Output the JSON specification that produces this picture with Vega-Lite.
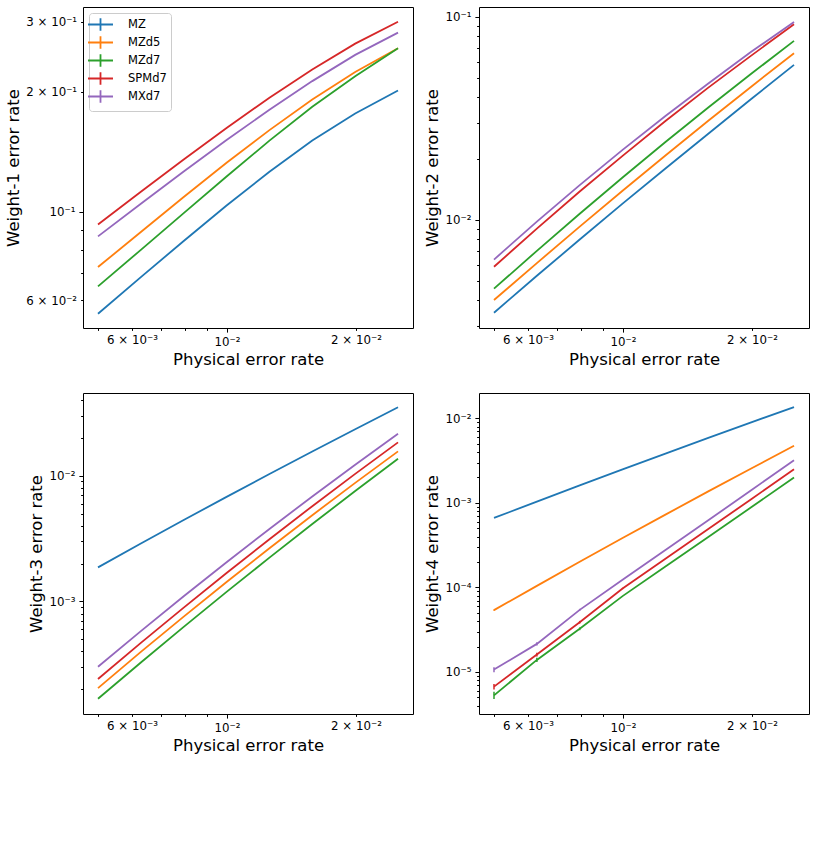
{
  "$schema": "https://vega.github.io/schema/vega-lite/v6.json",
  "background": "white",
  "padding": {"left": 5, "top": 6, "right": 5, "bottom": 5},
  "config": {
    "font": "DejaVu Sans",
    "view": {"stroke": "#000", "strokeWidth": 1},
    "axis": {"domain": false, "grid": false, "labelFont": "DejaVu Sans", "labelFontSize": 11.8, "labelColor": "#000", "tickColor": "#000", "tickWidth": 1, "titleFont": "DejaVu Sans", "titleFontSize": 16.5, "titleFontWeight": "normal", "titleColor": "#000", "labelOverlap": false, "labelFlush": false, "labelBound": false, "labelPadding": 4}
  },
  "data": {"values": [
    {"g":"w1","s":"MZ","p":0.005,"e":0.0554},{"g":"w1","s":"MZ","p":0.006295,"e":0.0685},{"g":"w1","s":"MZ","p":0.007924,"e":0.0844},{"g":"w1","s":"MZ","p":0.009976,"e":0.1036},{"g":"w1","s":"MZ","p":0.01256,"e":0.126},{"g":"w1","s":"MZ","p":0.01581,"e":0.1509},{"g":"w1","s":"MZ","p":0.01991,"e":0.1764},{"g":"w1","s":"MZ","p":0.02506,"e":0.2016},
    {"g":"w1","s":"MZd5","p":0.005,"e":0.0726},{"g":"w1","s":"MZd5","p":0.006295,"e":0.0889},{"g":"w1","s":"MZd5","p":0.007924,"e":0.1089},{"g":"w1","s":"MZd5","p":0.009976,"e":0.1327},{"g":"w1","s":"MZd5","p":0.01256,"e":0.1603},{"g":"w1","s":"MZd5","p":0.01581,"e":0.1914},{"g":"w1","s":"MZd5","p":0.01991,"e":0.2244},{"g":"w1","s":"MZd5","p":0.02506,"e":0.2573},
    {"g":"w1","s":"MZd7","p":0.005,"e":0.0649},{"g":"w1","s":"MZd7","p":0.006295,"e":0.0802},{"g":"w1","s":"MZd7","p":0.007924,"e":0.0992},{"g":"w1","s":"MZd7","p":0.009976,"e":0.1226},{"g":"w1","s":"MZd7","p":0.01256,"e":0.1508},{"g":"w1","s":"MZd7","p":0.01581,"e":0.1834},{"g":"w1","s":"MZd7","p":0.01991,"e":0.219},{"g":"w1","s":"MZd7","p":0.02506,"e":0.2573},
    {"g":"w1","s":"SPMd7","p":0.005,"e":0.0929},{"g":"w1","s":"SPMd7","p":0.006295,"e":0.1122},{"g":"w1","s":"SPMd7","p":0.007924,"e":0.1353},{"g":"w1","s":"SPMd7","p":0.009976,"e":0.1623},{"g":"w1","s":"SPMd7","p":0.01256,"e":0.1933},{"g":"w1","s":"SPMd7","p":0.01581,"e":0.2277},{"g":"w1","s":"SPMd7","p":0.01991,"e":0.2643},{"g":"w1","s":"SPMd7","p":0.02506,"e":0.3},
    {"g":"w1","s":"MXd7","p":0.005,"e":0.0867},{"g":"w1","s":"MXd7","p":0.006295,"e":0.1047},{"g":"w1","s":"MXd7","p":0.007924,"e":0.1262},{"g":"w1","s":"MXd7","p":0.009976,"e":0.1514},{"g":"w1","s":"MXd7","p":0.01256,"e":0.1803},{"g":"w1","s":"MXd7","p":0.01581,"e":0.2128},{"g":"w1","s":"MXd7","p":0.01991,"e":0.2477},{"g":"w1","s":"MXd7","p":0.02506,"e":0.2817},

    {"g":"w2","s":"MZ","p":0.005,"e":0.00348},{"g":"w2","s":"MZ","p":0.006295,"e":0.00529},{"g":"w2","s":"MZ","p":0.007924,"e":0.00798},{"g":"w2","s":"MZ","p":0.009976,"e":0.01199},{"g":"w2","s":"MZ","p":0.01256,"e":0.01787},{"g":"w2","s":"MZ","p":0.01581,"e":0.0265},{"g":"w2","s":"MZ","p":0.01991,"e":0.0393},{"g":"w2","s":"MZ","p":0.02506,"e":0.0579},
    {"g":"w2","s":"MZd5","p":0.005,"e":0.00402},{"g":"w2","s":"MZd5","p":0.006295,"e":0.00611},{"g":"w2","s":"MZd5","p":0.007924,"e":0.00924},{"g":"w2","s":"MZd5","p":0.009976,"e":0.01388},{"g":"w2","s":"MZd5","p":0.01256,"e":0.0207},{"g":"w2","s":"MZd5","p":0.01581,"e":0.0307},{"g":"w2","s":"MZd5","p":0.01991,"e":0.0452},{"g":"w2","s":"MZd5","p":0.02506,"e":0.0661},
    {"g":"w2","s":"MZd7","p":0.005,"e":0.00457},{"g":"w2","s":"MZd7","p":0.006295,"e":0.00702},{"g":"w2","s":"MZd7","p":0.007924,"e":0.0107},{"g":"w2","s":"MZd7","p":0.009976,"e":0.01614},{"g":"w2","s":"MZd7","p":0.01256,"e":0.02415},{"g":"w2","s":"MZd7","p":0.01581,"e":0.0357},{"g":"w2","s":"MZd7","p":0.01991,"e":0.0523},{"g":"w2","s":"MZd7","p":0.02506,"e":0.076},
    {"g":"w2","s":"SPMd7","p":0.005,"e":0.00586},{"g":"w2","s":"SPMd7","p":0.006295,"e":0.00903},{"g":"w2","s":"SPMd7","p":0.007924,"e":0.01377},{"g":"w2","s":"SPMd7","p":0.009976,"e":0.02062},{"g":"w2","s":"SPMd7","p":0.01256,"e":0.0306},{"g":"w2","s":"SPMd7","p":0.01581,"e":0.0447},{"g":"w2","s":"SPMd7","p":0.01991,"e":0.0643},{"g":"w2","s":"SPMd7","p":0.02506,"e":0.0917},
    {"g":"w2","s":"MXd7","p":0.005,"e":0.00636},{"g":"w2","s":"MXd7","p":0.006295,"e":0.00978},{"g":"w2","s":"MXd7","p":0.007924,"e":0.0148},{"g":"w2","s":"MXd7","p":0.009976,"e":0.02207},{"g":"w2","s":"MXd7","p":0.01256,"e":0.0324},{"g":"w2","s":"MXd7","p":0.01581,"e":0.0469},{"g":"w2","s":"MXd7","p":0.01991,"e":0.0671},{"g":"w2","s":"MXd7","p":0.02506,"e":0.0941},

    {"g":"w3","s":"MZ","p":0.005,"e":0.001865},{"g":"w3","s":"MZ","p":0.006295,"e":0.002885},{"g":"w3","s":"MZ","p":0.007924,"e":0.004437},{"g":"w3","s":"MZ","p":0.009976,"e":0.006788},{"g":"w3","s":"MZ","p":0.01256,"e":0.01032},{"g":"w3","s":"MZ","p":0.01581,"e":0.0156},{"g":"w3","s":"MZ","p":0.01991,"e":0.02342},{"g":"w3","s":"MZ","p":0.02506,"e":0.035},
    {"g":"w3","s":"MZd5","p":0.005,"e":0.000204},{"g":"w3","s":"MZd5","p":0.006295,"e":0.000396},{"g":"w3","s":"MZd5","p":0.007924,"e":0.000756},{"g":"w3","s":"MZd5","p":0.009976,"e":0.001425},{"g":"w3","s":"MZd5","p":0.01256,"e":0.002647},{"g":"w3","s":"MZd5","p":0.01581,"e":0.00485},{"g":"w3","s":"MZd5","p":0.01991,"e":0.00877},{"g":"w3","s":"MZd5","p":0.02506,"e":0.01562},
    {"g":"w3","s":"MZd7","p":0.005,"e":0.000168},{"g":"w3","s":"MZd7","p":0.006295,"e":0.000326},{"g":"w3","s":"MZd7","p":0.007924,"e":0.000627},{"g":"w3","s":"MZd7","p":0.009976,"e":0.001189},{"g":"w3","s":"MZd7","p":0.01256,"e":0.002228},{"g":"w3","s":"MZd7","p":0.01581,"e":0.004126},{"g":"w3","s":"MZd7","p":0.01991,"e":0.00755},{"g":"w3","s":"MZd7","p":0.02506,"e":0.01365},
    {"g":"w3","s":"SPMd7","p":0.005,"e":0.000241},{"g":"w3","s":"SPMd7","p":0.006295,"e":0.000467},{"g":"w3","s":"SPMd7","p":0.007924,"e":0.000892},{"g":"w3","s":"SPMd7","p":0.009976,"e":0.00168},{"g":"w3","s":"SPMd7","p":0.01256,"e":0.003122},{"g":"w3","s":"SPMd7","p":0.01581,"e":0.00572},{"g":"w3","s":"SPMd7","p":0.01991,"e":0.01034},{"g":"w3","s":"SPMd7","p":0.02506,"e":0.01842},
    {"g":"w3","s":"MXd7","p":0.005,"e":0.000302},{"g":"w3","s":"MXd7","p":0.006295,"e":0.00058},{"g":"w3","s":"MXd7","p":0.007924,"e":0.001097},{"g":"w3","s":"MXd7","p":0.009976,"e":0.002047},{"g":"w3","s":"MXd7","p":0.01256,"e":0.003766},{"g":"w3","s":"MXd7","p":0.01581,"e":0.00684},{"g":"w3","s":"MXd7","p":0.01991,"e":0.01223},{"g":"w3","s":"MXd7","p":0.02506,"e":0.0216},

    {"g":"w4","s":"MZ","p":0.005,"e":0.000664},{"g":"w4","s":"MZ","p":0.006295,"e":0.001036},{"g":"w4","s":"MZ","p":0.007924,"e":0.001609},{"g":"w4","s":"MZ","p":0.009976,"e":0.002489},{"g":"w4","s":"MZ","p":0.01256,"e":0.003833},{"g":"w4","s":"MZ","p":0.01581,"e":0.00587},{"g":"w4","s":"MZ","p":0.01991,"e":0.00897},{"g":"w4","s":"MZ","p":0.02506,"e":0.01363},
    {"g":"w4","s":"MZd5","p":0.005,"e":0.0000539,"lo":0.0000529,"hi":0.0000549},{"g":"w4","s":"MZd5","p":0.006295,"e":0.0001044},{"g":"w4","s":"MZd5","p":0.007924,"e":0.000201},{"g":"w4","s":"MZd5","p":0.009976,"e":0.000384},{"g":"w4","s":"MZd5","p":0.01256,"e":0.000727},{"g":"w4","s":"MZd5","p":0.01581,"e":0.001369},{"g":"w4","s":"MZd5","p":0.01991,"e":0.002556},{"g":"w4","s":"MZd5","p":0.02506,"e":0.00474},
    {"g":"w4","s":"MZd7","p":0.005,"e":0.00000529,"lo":0.00000479,"hi":0.00000584},{"g":"w4","s":"MZd7","p":0.006295,"e":0.00001388,"lo":0.0000131,"hi":0.0000147},{"g":"w4","s":"MZd7","p":0.007924,"e":0.0000324,"lo":0.0000312,"hi":0.0000336},{"g":"w4","s":"MZd7","p":0.009976,"e":0.0000789},{"g":"w4","s":"MZd7","p":0.01256,"e":0.0001774},{"g":"w4","s":"MZd7","p":0.01581,"e":0.000395},{"g":"w4","s":"MZd7","p":0.01991,"e":0.000888},{"g":"w4","s":"MZd7","p":0.02506,"e":0.002},
    {"g":"w4","s":"SPMd7","p":0.005,"e":0.0000067,"lo":0.00000622,"hi":0.0000072},{"g":"w4","s":"SPMd7","p":0.006295,"e":0.00001605,"lo":0.0000152,"hi":0.0000169},{"g":"w4","s":"SPMd7","p":0.007924,"e":0.0000388,"lo":0.0000374,"hi":0.0000402},{"g":"w4","s":"SPMd7","p":0.009976,"e":0.0000973,"lo":0.0000955,"hi":0.0000991},{"g":"w4","s":"SPMd7","p":0.01256,"e":0.0002187},{"g":"w4","s":"SPMd7","p":0.01581,"e":0.000492},{"g":"w4","s":"SPMd7","p":0.01991,"e":0.001105},{"g":"w4","s":"SPMd7","p":0.02506,"e":0.002507},
    {"g":"w4","s":"MXd7","p":0.005,"e":0.00001066,"lo":0.00000995,"hi":0.0000114},{"g":"w4","s":"MXd7","p":0.006295,"e":0.00002148,"lo":0.0000205,"hi":0.0000225},{"g":"w4","s":"MXd7","p":0.007924,"e":0.0000543,"lo":0.0000528,"hi":0.0000558},{"g":"w4","s":"MXd7","p":0.009976,"e":0.0001233},{"g":"w4","s":"MXd7","p":0.01256,"e":0.000277},{"g":"w4","s":"MXd7","p":0.01581,"e":0.000623},{"g":"w4","s":"MXd7","p":0.01991,"e":0.001413},{"g":"w4","s":"MXd7","p":0.02506,"e":0.003206}
  ]},
  "columns": 2,
  "spacing": {"row": 65, "column": 66},
  "bounds": "flush",
  "resolve": {"scale": {"x": "independent", "y": "independent", "color": "independent"}, "legend": {"color": "independent"}},
  "concat": [
    {
      "width": 330, "height": 321,
      "transform": [{"filter": "datum.g == 'w1'"}],
      "mark": {"type": "line", "strokeWidth": 1.8},
      "encoding": {
        "x": {"field": "p", "type": "quantitative", "scale": {"type": "log", "domain": [0.004613, 0.02716], "nice": false},
          "axis": {"title": "Physical error rate", "values": [0.005, 0.006, 0.007, 0.008, 0.009, 0.01, 0.02],
            "labelExpr": "datum.value == 0.006 ? '6 × 10⁻³' : datum.value == 0.01 ? '10⁻²' : datum.value == 0.02 ? '2 × 10⁻²' : ''",
            "tickSize": {"condition": {"test": "datum.value == 0.01", "value": 4.1}, "value": 2.4}}},
        "y": {"field": "e", "type": "quantitative", "scale": {"type": "log", "domain": [0.05103, 0.3267], "nice": false},
          "axis": {"title": "Weight-1 error rate", "values": [0.06, 0.07, 0.08, 0.09, 0.1, 0.2, 0.3],
            "labelExpr": "datum.value == 0.06 ? '6 × 10⁻²' : datum.value == 0.1 ? '10⁻¹' : datum.value == 0.2 ? '2 × 10⁻¹' : datum.value == 0.3 ? '3 × 10⁻¹' : ''",
            "tickSize": {"condition": {"test": "datum.value == 0.1", "value": 4.1}, "value": 2.4}}},
        "color": {"field": "s", "type": "nominal",
          "scale": {"domain": ["MZ", "MZd5", "MZd7", "SPMd7", "MXd7"], "range": ["#1f77b4", "#ff7f0e", "#2ca02c", "#d62728", "#9467bd"]},
          "legend": {"orient": "top-left", "offset": 6, "title": null, "symbolType": "M-2,0H2M0,-1V1", "symbolSize": 156, "symbolStrokeWidth": 1.8, "labelFont": "DejaVu Sans", "labelFontSize": 11.5, "labelColor": "#000", "labelOffset": 20, "fillColor": "rgba(255,255,255,0.8)", "strokeColor": "#cccccc", "cornerRadius": 3, "padding": 4, "rowPadding": -6}}
      }
    },
    {
      "width": 330, "height": 321,
      "transform": [{"filter": "datum.g == 'w2'"}],
      "mark": {"type": "line", "strokeWidth": 1.8},
      "encoding": {
        "x": {"field": "p", "type": "quantitative", "scale": {"type": "log", "domain": [0.004613, 0.02716], "nice": false},
          "axis": {"title": "Physical error rate", "values": [0.005, 0.006, 0.007, 0.008, 0.009, 0.01, 0.02],
            "labelExpr": "datum.value == 0.006 ? '6 × 10⁻³' : datum.value == 0.01 ? '10⁻²' : datum.value == 0.02 ? '2 × 10⁻²' : ''",
            "tickSize": {"condition": {"test": "datum.value == 0.01", "value": 4.1}, "value": 2.4}}},
        "y": {"field": "e", "type": "quantitative", "scale": {"type": "log", "domain": [0.002926, 0.1116], "nice": false},
          "axis": {"title": "Weight-2 error rate", "values": [0.003, 0.004, 0.005, 0.006, 0.007, 0.008, 0.009, 0.01, 0.02, 0.03, 0.04, 0.05, 0.06, 0.07, 0.08, 0.09, 0.1],
            "labelExpr": "datum.value == 0.01 ? '10⁻²' : datum.value == 0.1 ? '10⁻¹' : ''",
            "tickSize": {"condition": {"test": "datum.value == 0.01 || datum.value == 0.1", "value": 4.1}, "value": 2.4}}},
        "color": {"field": "s", "type": "nominal",
          "scale": {"domain": ["MZ", "MZd5", "MZd7", "SPMd7", "MXd7"], "range": ["#1f77b4", "#ff7f0e", "#2ca02c", "#d62728", "#9467bd"]},
          "legend": null}
      }
    },
    {
      "width": 330, "height": 321,
      "transform": [{"filter": "datum.g == 'w3'"}],
      "mark": {"type": "line", "strokeWidth": 1.8},
      "encoding": {
        "x": {"field": "p", "type": "quantitative", "scale": {"type": "log", "domain": [0.004613, 0.02716], "nice": false},
          "axis": {"title": "Physical error rate", "values": [0.005, 0.006, 0.007, 0.008, 0.009, 0.01, 0.02],
            "labelExpr": "datum.value == 0.006 ? '6 × 10⁻³' : datum.value == 0.01 ? '10⁻²' : datum.value == 0.02 ? '2 × 10⁻²' : ''",
            "tickSize": {"condition": {"test": "datum.value == 0.01", "value": 4.1}, "value": 2.4}}},
        "y": {"field": "e", "type": "quantitative", "scale": {"type": "log", "domain": [0.000127, 0.0455], "nice": false},
          "axis": {"title": "Weight-3 error rate", "values": [0.0002, 0.0003, 0.0004, 0.0005, 0.0006, 0.0007, 0.0008, 0.0009, 0.001, 0.002, 0.003, 0.004, 0.005, 0.006, 0.007, 0.008, 0.009, 0.01, 0.02, 0.03, 0.04],
            "labelExpr": "datum.value == 0.001 ? '10⁻³' : datum.value == 0.01 ? '10⁻²' : ''",
            "tickSize": {"condition": {"test": "datum.value == 0.001 || datum.value == 0.01", "value": 4.1}, "value": 2.4}}},
        "color": {"field": "s", "type": "nominal",
          "scale": {"domain": ["MZ", "MZd5", "MZd7", "SPMd7", "MXd7"], "range": ["#1f77b4", "#ff7f0e", "#2ca02c", "#d62728", "#9467bd"]},
          "legend": null}
      }
    },
    {
      "width": 330, "height": 321,
      "transform": [{"filter": "datum.g == 'w4'"}],
      "layer": [
        {
          "mark": {"type": "line", "strokeWidth": 1.8},
          "encoding": {
            "x": {"field": "p", "type": "quantitative", "scale": {"type": "log", "domain": [0.004613, 0.02716], "nice": false},
              "axis": {"title": "Physical error rate", "values": [0.005, 0.006, 0.007, 0.008, 0.009, 0.01, 0.02],
                "labelExpr": "datum.value == 0.006 ? '6 × 10⁻³' : datum.value == 0.01 ? '10⁻²' : datum.value == 0.02 ? '2 × 10⁻²' : ''",
                "tickSize": {"condition": {"test": "datum.value == 0.01", "value": 4.1}, "value": 2.4}}},
            "y": {"field": "e", "type": "quantitative", "scale": {"type": "log", "domain": [0.00000318, 0.01998], "nice": false},
              "axis": {"title": "Weight-4 error rate", "values": [0.000004, 0.000005, 0.000006, 0.000007, 0.000008, 0.000009, 0.00001, 0.00002, 0.00003, 0.00004, 0.00005, 0.00006, 0.00007, 0.00008, 0.00009, 0.0001, 0.0002, 0.0003, 0.0004, 0.0005, 0.0006, 0.0007, 0.0008, 0.0009, 0.001, 0.002, 0.003, 0.004, 0.005, 0.006, 0.007, 0.008, 0.009, 0.01],
                "labelExpr": "datum.value == 0.00001 ? '10⁻⁵' : datum.value == 0.0001 ? '10⁻⁴' : datum.value == 0.001 ? '10⁻³' : datum.value == 0.01 ? '10⁻²' : ''",
                "tickSize": {"condition": {"test": "datum.value == 0.00001 || datum.value == 0.0001 || datum.value == 0.001 || datum.value == 0.01", "value": 4.1}, "value": 2.4}}},
            "color": {"field": "s", "type": "nominal",
              "scale": {"domain": ["MZ", "MZd5", "MZd7", "SPMd7", "MXd7"], "range": ["#1f77b4", "#ff7f0e", "#2ca02c", "#d62728", "#9467bd"]},
              "legend": null}
          }
        },
        {
          "transform": [{"filter": "isValid(datum.lo)"}],
          "mark": {"type": "rule", "strokeWidth": 1.5},
          "encoding": {
            "x": {"field": "p", "type": "quantitative", "title": "Physical error rate"},
            "y": {"field": "lo", "type": "quantitative", "title": "Weight-4 error rate"},
            "y2": {"field": "hi"},
            "color": {"field": "s", "type": "nominal", "legend": null}
          }
        }
      ]
    }
  ]
}
